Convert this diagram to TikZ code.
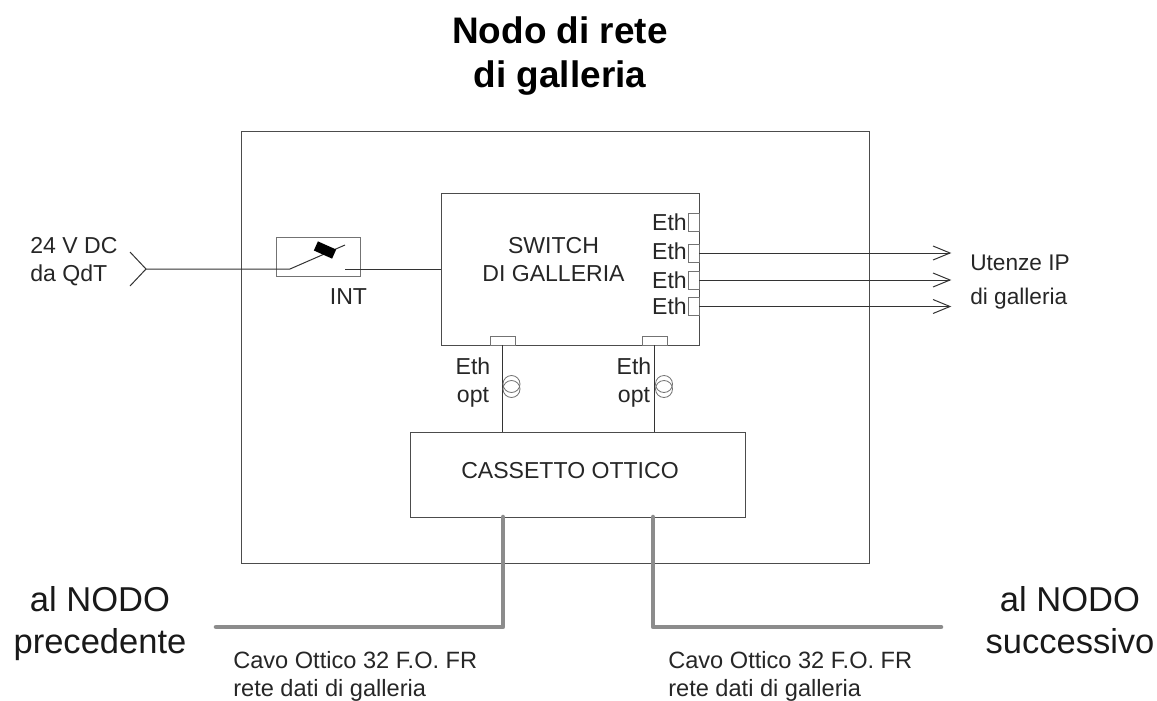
\documentclass[tikz,border=0pt]{standalone}
\usepackage{fontspec}
\setmainfont{Liberation Sans}
\tikzset{
  box/.style={draw=black!70,line width=0.75pt,inner sep=0pt,outer sep=0pt,rectangle},
  wire/.style={draw=black!80,line width=0.75pt},
  thinbox/.style={draw=black!55,line width=0.6pt,inner sep=0pt,outer sep=0pt,rectangle},
  coil/.style={draw=black!55,line width=0.6pt,inner sep=0pt,outer sep=0pt,circle,minimum size=12.75pt},
  rport/.style={thinbox,minimum width=8.25pt,minimum height=13.5pt},
  bport/.style={thinbox,minimum width=18.75pt,minimum height=6.75pt},
  cable/.style={draw=black!45,line width=3.4pt,line cap=round,line join=round},
  lab/.style={font=\fontsize{17.3pt}{21pt}\selectfont,align=left,inner sep=0pt,text=black!85},
  labc/.style={font=\fontsize{17.3pt}{21pt}\selectfont,align=center,inner sep=0pt,text=black!85},
  big/.style={font=\fontsize{25.9pt}{31.5pt}\selectfont,align=center,inner sep=0pt,text=black!90},
  cavo/.style={font=\fontsize{17.7pt}{21pt}\selectfont,align=left,anchor=west,inner sep=0pt,text=black!85},
}
\begin{document}
\begin{tikzpicture}[x=0.75pt,y=-0.75pt]
\useasboundingbox (0,0) rectangle (1157,700);
\node[font=\bfseries\fontsize{27.7pt}{33pt}\selectfont,align=center,inner sep=0pt,text=black] (title) at (560,56.5) {Nodo di rete\\di galleria};
\node[box,minimum width=471pt,minimum height=324pt] (frame) at (555,347) {};
\node[box,minimum width=193.5pt,minimum height=114pt] (swbox) at (570,269) {};
\node[box,minimum width=251.25pt,minimum height=63.75pt] (cassbox) at (577.5,474.5) {};
\node[thinbox,minimum width=63pt,minimum height=29.25pt] (intbox) at (318,256.5) {};
\node[labc] (cass) at (570,471) {CASSETTO OTTICO};
\node[labc] (sw) at (553.5,260) {SWITCH\\DI GALLERIA};
\node[lab,anchor=base] (int) at (348.5,304) {INT};
\node[lab,anchor=west] (dc) at (30,262) {24 V DC\\da QdT};
% interruttore
\coordinate (in) at (146,269);
\coordinate (inA) at (130,252);
\coordinate (inB) at (130,286);
\coordinate (sa) at (290,269);
\coordinate (sb) at (345,245);
\coordinate (sc) at (345,269);
\draw[wire] (inA) -- (in) -- (inB);
\draw[wire] (in) -- (sa) -- (sb);
\draw[wire] (sc) -- (sc -| swbox.west);
\fill[black,rotate around={-24:(325,250)}] (315,245) rectangle (335,255);
% porte a destra
\foreach \n/\yc/\yt in {a/222/230,b/253/259,c/280/288,d/306.5/314}{
  \node[rport] (port\n) at (693.5,\yc) {};
  \node[lab,anchor=base east] (eth\n) at (687,\yt) {Eth};
}
\coordinate (tipx) at (950,0);
\foreach \n in {b,c,d}{
  \coordinate (tip\n) at (tipx |- port\n.east);
  \path (tip\n) ++(-17,-7) coordinate (up\n);
  \path (tip\n) ++(-17,7) coordinate (dn\n);
  \draw[wire] (port\n.east) -- (tip\n);
  \draw[wire] (up\n) -- (tip\n) -- (dn\n);
}
\node[font=\fontsize{17pt}{26pt}\selectfont,align=left,inner sep=0pt,text=black!85,anchor=west] (ut) at (970,282) {Utenze IP\\di galleria};
% porte in basso
\node[bport] (p1) at (502.5,340.5) {};
\node[bport] (p2) at (654.5,340.5) {};
\draw[wire] (p1.center |- swbox.south) -- (p1.center |- cassbox.north);
\draw[wire] (p2.center |- swbox.south) -- (p2.center |- cassbox.north);
\node[coil] (c1a) at (511.5,384) {};
\node[coil] (c1b) at (511.5,389) {};
\node[coil] (c2a) at (664,384) {};
\node[coil] (c2b) at (664,389) {};
\node[labc] (o1) at (473,383) {Eth\\opt};
\node[labc] (o2) at (634,383) {Eth\\opt};
% cavi
\coordinate (bendL) at (503,627);
\coordinate (endL) at (216,627);
\coordinate (bendR) at (653,627);
\coordinate (endR) at (941,627);
\draw[cable] (bendL |- cassbox.south) -- (bendL) -- (endL);
\draw[cable] (bendR |- cassbox.south) -- (bendR) -- (endR);
\node[big] (prev) at (100,624) {al NODO\\precedente};
\node[big] (succ) at (1070,620.4) {al NODO\\successivo};
\node[cavo] (t1) at (233,676) {Cavo Ottico 32 F.O. FR\\rete dati di galleria};
\node[cavo] (t2) at (668,676) {Cavo Ottico 32 F.O. FR\\rete dati di galleria};
\end{tikzpicture}
\end{document}
